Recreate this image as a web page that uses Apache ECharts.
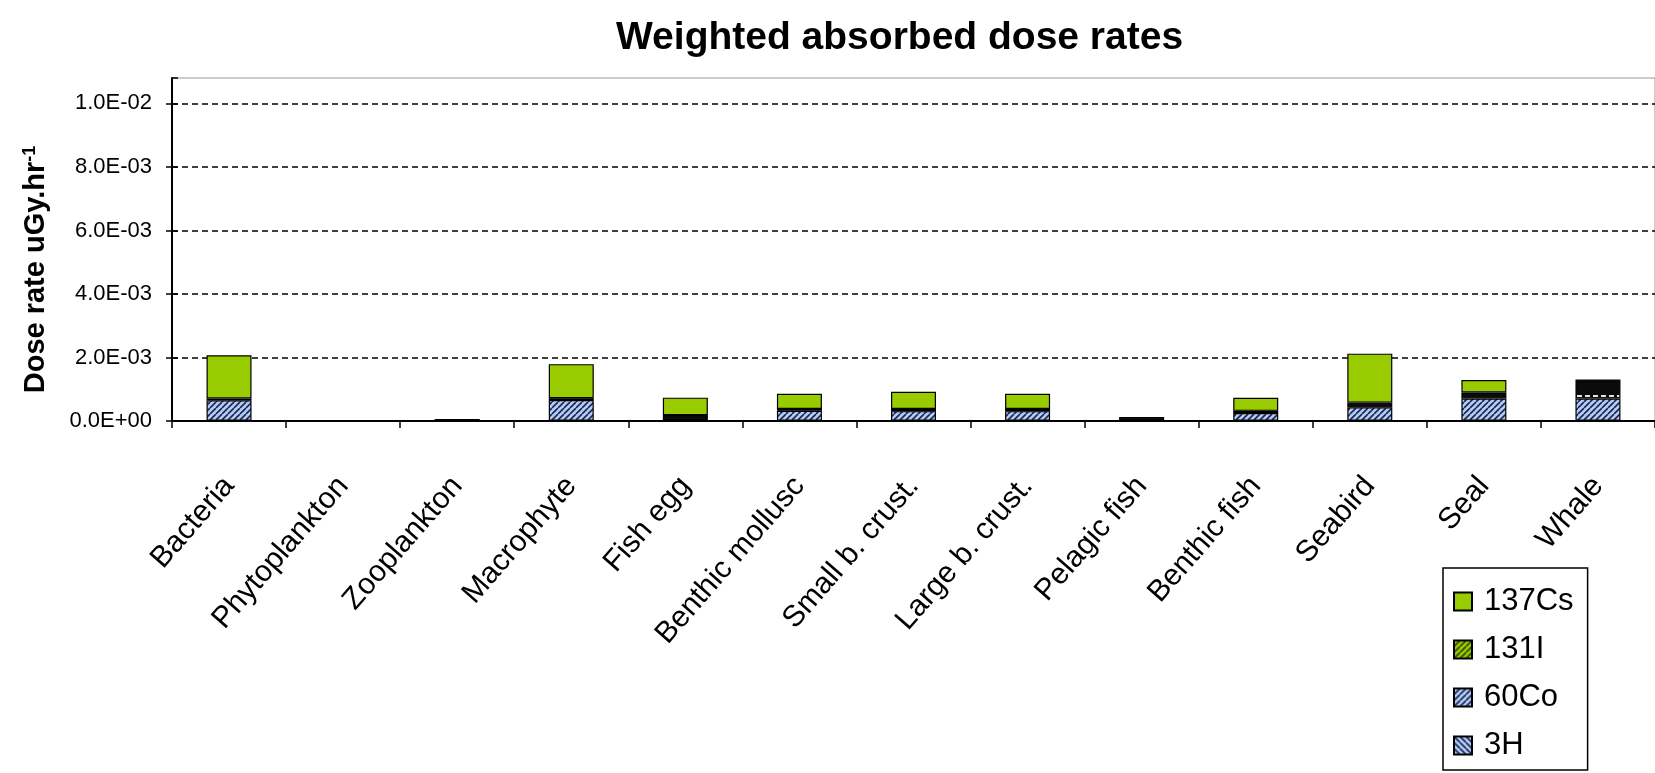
<!DOCTYPE html>
<html>
<head>
<meta charset="utf-8">
<title>Weighted absorbed dose rates</title>
<script src="https://cdn.jsdelivr.net/npm/echarts@6/dist/echarts.min.js"></script>
<style>
  html, body { margin: 0; padding: 0; background: #ffffff; }
  #chart { width: 1655px; height: 773px; }
</style>
</head>
<body>
<div id="chart"></div>
<script>
// Organisms along the x axis
const categories = ['Bacteria', 'Phytoplankton', 'Zooplankton', 'Macrophyte', 'Fish egg',
  'Benthic mollusc', 'Small b. crust.', 'Large b. crust.', 'Pelagic fish', 'Benthic fish',
  'Seabird', 'Seal', 'Whale'];

// Weighted absorbed dose rate per radionuclide (uGy/hr), stacked bottom to top
const h3    = [1.0e-5, 2.0e-6, 3.0e-6, 1.0e-5, 5.0e-6, 1.0e-5, 1.0e-5, 1.0e-5, 3.0e-6, 1.0e-5, 1.0e-5, 1.0e-5, 1.0e-5];
const co60  = [6.4e-4, 3.0e-6, 3.0e-6, 6.5e-4, 1.0e-5, 3.1e-4, 3.0e-4, 3.0e-4, 5.0e-6, 2.4e-4, 4.2e-4, 7.0e-4, 7.0e-4];
const i131  = [6.0e-5, 5.0e-6, 4.0e-5, 6.0e-5, 1.7e-4, 6.0e-5, 7.0e-5, 7.0e-5, 1.0e-4, 7.0e-5, 1.5e-4, 1.9e-4, 5.7e-4];
const cs137 = [1.36e-3, 2.0e-6, 3.0e-6, 1.07e-3, 5.5e-4, 4.8e-4, 5.4e-4, 4.8e-4, 3.0e-6, 4.1e-4, 1.54e-3, 3.9e-4, 1.0e-5];

// Legend order (top to bottom) and y tick labels
const legendNames = ['137Cs', '131I', '60Co', '3H'];
const yTickLabels = ['0.0E+00', '2.0E-03', '4.0E-03', '6.0E-03', '8.0E-03', '1.0E-02'];
const yStep = 0.002;
const yMax = 0.0108;

const FONT = "'Liberation Sans', Arial, sans-serif";

// Diagonal hatch fill: dir > 0 draws '/', dir < 0 draws '\'
function hatch(bg, fg, dir, size, lw) {
  const c = document.createElement('canvas');
  c.width = size; c.height = size;
  const g = c.getContext('2d');
  g.fillStyle = bg;
  g.fillRect(0, 0, size, size);
  g.strokeStyle = fg;
  g.lineWidth = lw;
  g.beginPath();
  for (const o of [-size, 0, size]) {
    if (dir > 0) { g.moveTo(o, size); g.lineTo(o + size, 0); }
    else { g.moveTo(o, 0); g.lineTo(o + size, size); }
  }
  g.stroke();
  return { image: c, repeat: 'repeat' };
}

// Dark fill with a row of light dashes
function dashRow(bg, fg, w, h, row, x0, len) {
  const c = document.createElement('canvas');
  c.width = w; c.height = h;
  const g = c.getContext('2d');
  g.fillStyle = bg;
  g.fillRect(0, 0, w, h);
  g.fillStyle = fg;
  g.fillRect(x0, row, len, 2);
  return { image: c, repeat: 'repeat' };
}

const CS_GREEN = '#99cc00';
const I_DARK = '#0b0b0b';
const blueFwd = hatch('#b3ccf5', '#1c2550', 1, 6, 1.6);
const blueBack = hatch('#b3ccf5', '#1c2550', -1, 6, 1.6);
const greenHatch = hatch(CS_GREEN, '#34430a', 1, 6, 1.6);
const iodineDash = dashRow(I_DARK, '#e4e4e4', 8, 20, 15, 1, 5);

const barCommon = {
  type: 'bar',
  stack: 'dose',
  barWidth: 45,
  itemStyle: { borderColor: '#000', borderWidth: 1.2 },
  emphasis: { disabled: true }
};

const series = [
  Object.assign({}, barCommon, { name: '3H', data: h3,
    itemStyle: Object.assign({}, barCommon.itemStyle, { color: blueBack }) }),
  Object.assign({}, barCommon, { name: '60Co', data: co60,
    itemStyle: Object.assign({}, barCommon.itemStyle, { color: blueFwd }) }),
  Object.assign({}, barCommon, { name: '131I',
    data: i131.map((v, i) => categories[i] === 'Whale'
      ? { value: v, itemStyle: { color: iodineDash } } : v),
    itemStyle: Object.assign({}, barCommon.itemStyle, { color: I_DARK }) }),
  Object.assign({}, barCommon, { name: '137Cs', data: cs137,
    itemStyle: Object.assign({}, barCommon.itemStyle, { color: CS_GREEN }) })
];

const chart = echarts.init(document.getElementById('chart'), null, { renderer: 'canvas' });

chart.setOption({
  backgroundColor: '#ffffff',
  animation: false,
  title: {
    text: 'Weighted absorbed dose rates',
    left: 611,
    top: 14,
    textStyle: { fontFamily: FONT, fontSize: 39, fontWeight: 'bold', color: '#000' }
  },
  grid: {
    left: 172, right: -12, top: 78, bottom: 352,
    show: true, borderColor: '#999', borderWidth: 1, backgroundColor: 'transparent'
  },
  legend: {
    orient: 'vertical',
    left: 1443,
    top: 568,
    padding: [18, 14, 9, 10],
    itemGap: 17,
    itemWidth: 18,
    itemHeight: 18,
    icon: 'rect',
    borderColor: '#000',
    borderWidth: 1.5,
    backgroundColor: '#fff',
    textStyle: { fontFamily: FONT, fontSize: 31, lineHeight: 31, color: '#000', padding: [0, 0, 0, 7] },
    data: [
      { name: '137Cs' },
      { name: '131I', itemStyle: { color: greenHatch } },
      { name: '60Co' },
      { name: '3H' }
    ].filter(d => legendNames.includes(d.name))
  },
  xAxis: {
    type: 'category',
    data: categories,
    axisLine: { lineStyle: { color: '#000', width: 2 } },
    axisTick: { show: true, length: 7, lineStyle: { color: '#000', width: 1.5 } },
    axisLabel: {
      interval: 0, rotate: 49, margin: 60,
      padding: [0, 0, 14, 0],
      fontFamily: FONT, fontSize: 30, color: '#000'
    },
    splitLine: { show: false }
  },
  yAxis: [
    {
      type: 'value', min: 0, max: yMax, interval: yStep,
      axisLine: { show: true, lineStyle: { color: '#000', width: 2 } },
      axisTick: { show: true, length: 6, lineStyle: { color: '#000', width: 1.5 } },
      axisLabel: {
        margin: 20, fontFamily: FONT, fontSize: 22, color: '#000', showMaxLabel: false,
        formatter: v => {
          const k = Math.round(v / yStep);
          return Math.abs(v - k * yStep) < 1e-9 ? (yTickLabels[k] || '') : '';
        }
      },
      splitLine: {
        show: true, showMinLine: false, showMaxLine: false,
        lineStyle: { color: '#000', type: [6, 4], width: 1.5 }
      },
      name: 'Dose rate uGy.hr{sup|-1}',
      nameLocation: 'middle',
      nameRotate: 90,
      nameGap: 122,
      nameTextStyle: {
        fontFamily: FONT, fontSize: 29, fontWeight: 'bold', color: '#000',
        padding: [0, 40, 0, 0],
        rich: { sup: { fontFamily: FONT, fontSize: 18, fontWeight: 'bold', color: '#000', verticalAlign: 'top' } }
      }
    },
    {
      type: 'value', min: 0, max: yMax, interval: yStep, position: 'left',
      axisLine: { show: false },
      axisTick: { show: true, inside: true, length: 6, lineStyle: { color: '#000', width: 1.5 } },
      axisLabel: { show: false },
      splitLine: { show: false }
    }
  ],
  series: series
});
</script>
</body>
</html>
